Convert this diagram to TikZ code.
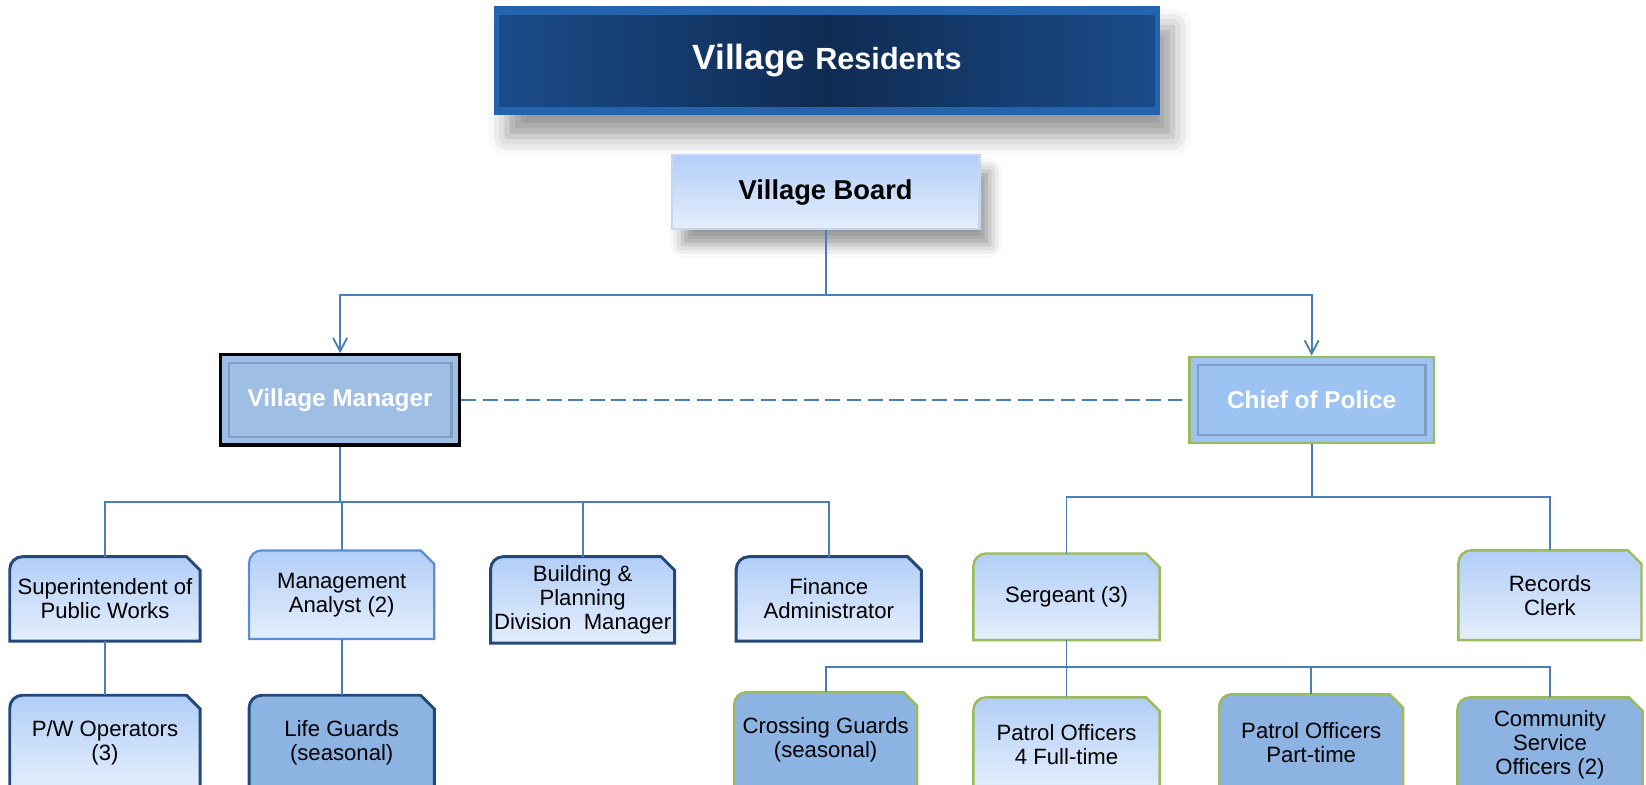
\documentclass[tikz,border=0pt]{standalone}
\usepackage{fontspec}
\setmainfont{Liberation Sans}
\usetikzlibrary{arrows.meta,backgrounds,shadows.blur}

\definecolor{navydeep}{HTML}{0F2B52}
\definecolor{navyedge}{HTML}{1B4C8A}
\definecolor{bevel}{HTML}{2463AE}
\definecolor{wire}{HTML}{4A7EBB}
\definecolor{darkedge}{HTML}{22497A}
\definecolor{paleedge}{HTML}{5A8ED0}
\definecolor{leaf}{HTML}{9BBB59}
\definecolor{boxtop}{HTML}{B2CEF7}
\definecolor{boxbot}{HTML}{E4EEFC}
\definecolor{deepfill}{HTML}{8DB3E2}
\definecolor{headfill}{HTML}{9EBEE4}
\definecolor{chieffill}{HTML}{9CC3F1}
\definecolor{innerline}{HTML}{7E9CC4}
\definecolor{boardedge}{HTML}{C6D6EE}

\tikzset{
  link/.style={draw=wire, line width=0.5pt},
  lightfill/.style={top color=boxtop, bottom color=boxbot},
  solidfill/.style={fill=deepfill},
  unit/.style={inner sep=0pt, align=center, text=black,
    font=\fontsize{6}{6.5}\selectfont},
  head/.style={inner sep=0pt, text=white, font=\fontsize{6.6}{8}\selectfont\bfseries,
    path picture={\draw[innerline, line width=0.6pt]
      ([shift={(0.08,-0.08)}]path picture bounding box.north west) rectangle
      ([shift={(-0.08,0.08)}]path picture bounding box.south east);}},
}

\begin{document}
\begin{tikzpicture}
	\useasboundingbox (0,0) rectangle (15.68,-7.47);
	% top of the chart
	\node[fill=bevel, inner sep=0pt, minimum width=6.34cm, minimum height=1.04cm,
	  blur shadow={shadow xshift=0.12cm, shadow yshift=-0.2cm, shadow blur radius=0.18cm},
	  path picture={\shade[left color=navyedge, right color=navyedge, middle color=navydeep]
	    ([shift={(0.05,-0.09)}]path picture bounding box.north west) rectangle
	    ([shift={(-0.05,0.09)}]path picture bounding box.south east);},
	  text=white, font=\bfseries] (res) at (7.88,-0.58)
	  {{\fontsize{9.5}{11}\selectfont Village} {\fontsize{8.3}{10}\selectfont Residents}};
	\node[top color=boxtop, bottom color=boxbot, draw=boardedge, line width=0.6pt,
	  minimum width=2.93cm, minimum height=0.70cm,
	  blur shadow={shadow xshift=0.1cm, shadow yshift=-0.15cm, shadow blur radius=0.12cm},
	  font=\fontsize{7.4}{9}\selectfont\bfseries] (board) at (7.865,-1.83) {Village Board};

	\node[head, fill=headfill, draw=black, line width=0.9pt,
	  minimum width=2.28cm, minimum height=0.86cm] (vm)  at (3.24,  -3.81) {Village Manager};
	\node[head, fill=chieffill, draw=leaf, line width=0.7pt,
	  minimum width=2.33cm, minimum height=0.82cm] (cop) at (12.495,-3.81) {Chief of Police};

	% units
	\node[unit, minimum width=1.80cm, minimum height=0.79cm] (super)     at (1.00,  -5.705) {Superintendent of\\Public Works};
	\node[unit, minimum width=1.75cm, minimum height=0.83cm] (analyst)   at (3.255, -5.665) {Management\\Analyst (2)};
	\node[unit, minimum width=1.74cm, minimum height=0.81cm] (building)  at (5.55,  -5.715) {Building \&\\Planning\\Division\ \ Manager};
	\node[unit, minimum width=1.75cm, minimum height=0.79cm] (finance)   at (7.895, -5.705) {Finance\\Administrator};
	\node[unit, minimum width=1.76cm, minimum height=0.81cm] (sergeant)  at (10.16, -5.685) {Sergeant (3)};
	\node[unit, minimum width=1.73cm, minimum height=0.84cm] (records)   at (14.765,-5.67)  {Records\\Clerk};
	\node[unit, minimum width=1.80cm, minimum height=0.90cm] (pwops)     at (1.00,  -7.08)  {P/W Operators\\(3)};
	\node[unit, minimum width=1.75cm, minimum height=0.90cm] (lifeguard) at (3.255, -7.08)  {Life Guards\\(seasonal)};
	\node[unit, minimum width=1.73cm, minimum height=0.90cm] (crossing)  at (7.865, -7.05)  {Crossing Guards\\(seasonal)};
	\node[unit, minimum width=1.76cm, minimum height=0.88cm] (patrol1)   at (10.16, -7.09)  {Patrol Officers\\4 Full-time};
	\node[unit, minimum width=1.74cm, minimum height=0.90cm] (patrol2)   at (12.49, -7.07)  {Patrol Officers\\Part-time};
	\node[unit, minimum width=1.75cm, minimum height=0.88cm] (cso)       at (14.765,-7.09)  {Community\\Service\\Officers (2)};

	\begin{scope}[on background layer]
		\def\units {super/darkedge/lightfill/0.8, analyst/paleedge/lightfill/0.6,
		building/darkedge/lightfill/0.8, finance/darkedge/lightfill/0.8,
		pwops/darkedge/lightfill/0.8, lifeguard/darkedge/solidfill/0.8,
		sergeant/leaf/lightfill/0.65, records/leaf/lightfill/0.65, crossing/leaf/solidfill/0.65,
		patrol1/leaf/lightfill/0.65, patrol2/leaf/solidfill/0.65, cso/leaf/solidfill/0.65}  % box looks
		\foreach \u/\c/\look/\w in \units
		{	\path[draw=\c, line width=\w pt, \look] (\u.south west) -- ([yshift=-0.12cm]\u.north west)
			  arc[start angle=180, end angle=90, radius=0.12cm] -- ([xshift=-0.13cm]\u.north east)
			  -- ([yshift=-0.13cm]\u.north east) -- (\u.south east) -- cycle;
		}
	\end{scope}

	% connectors
	\foreach \v in {vm, cop}
	{	\draw[link, -{Straight Barb[length=3.6pt,width=3.8pt]}] (board.south) -- ++(0,-0.62) -| (\v.north);
	}
	\draw[link, line width=0.7pt, dash pattern=on 4pt off 1.8pt] (vm) -- (cop);
	\def\tree {vm/super/0.53, vm/analyst/0.53, vm/building/0.53, vm/finance/0.53,
	cop/sergeant/0.50, cop/records/0.50, sergeant/crossing/0.26, sergeant/patrol1/0.26,
	sergeant/patrol2/0.26, sergeant/cso/0.26}  % list elements
	\foreach \u/\v/\drop in \tree
	{	\draw[link] (\u.south) -- ++(0,-\drop) -| (\v.north);
	}
	\draw[link] (super) -- (pwops);
	\draw[link] (analyst) -- (lifeguard);
\end{tikzpicture}
\end{document}
